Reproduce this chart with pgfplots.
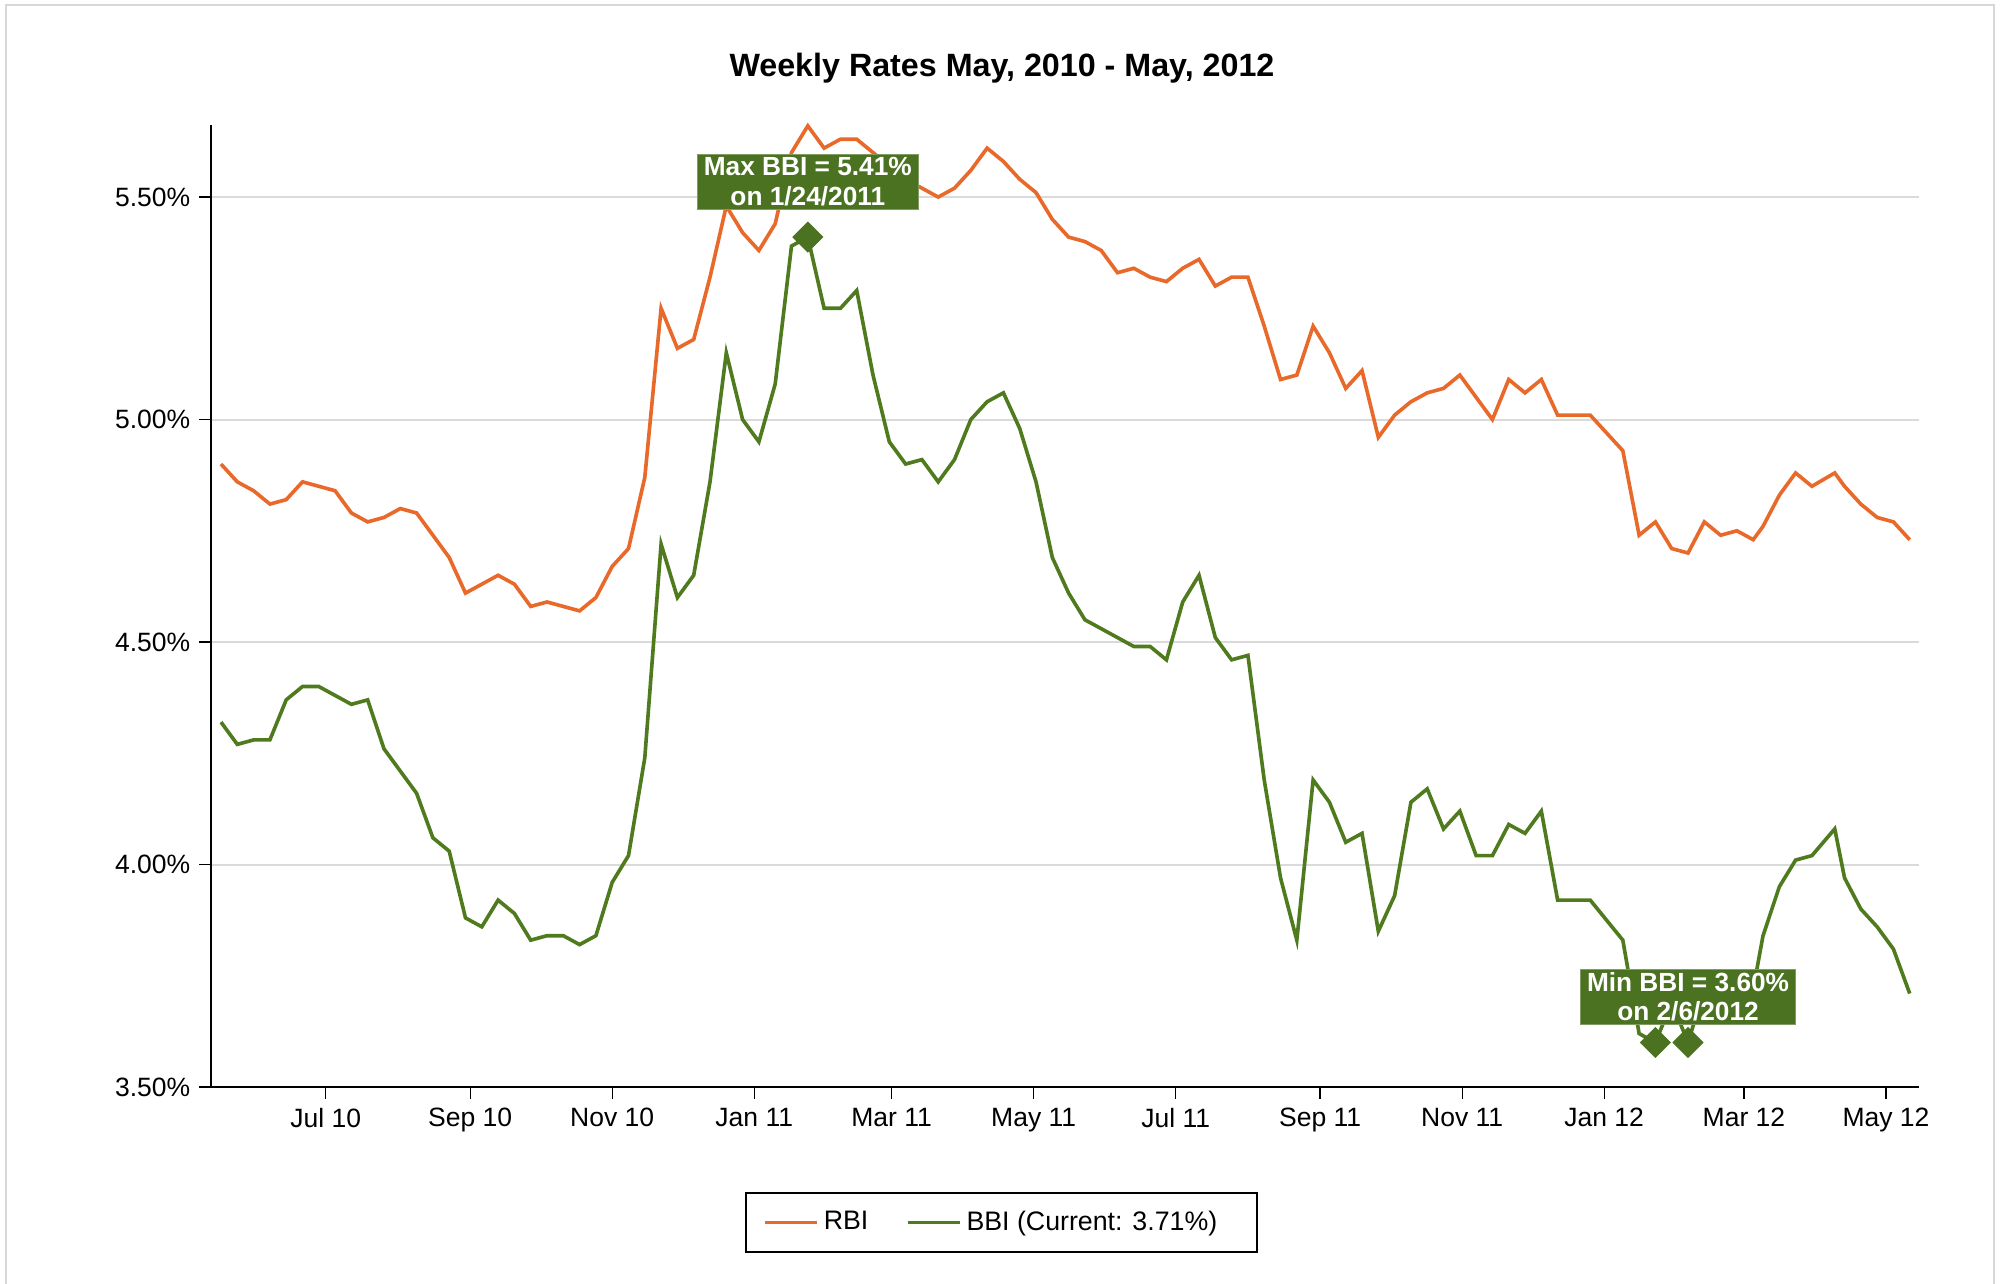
\documentclass[border=0pt]{standalone}
\usepackage{pgfplots}
\pgfplotsset{compat=1.18}
\usepackage{fontspec}
\setmainfont{Liberation Sans}
\definecolor{rbi}{HTML}{E8692A}
\definecolor{bbi}{HTML}{4F7A1E}
\definecolor{boxg}{HTML}{4A7220}
\definecolor{gridc}{HTML}{DADADA}
\definecolor{framec}{HTML}{D8D8D8}
\begin{document}
\begin{tikzpicture}
\useasboundingbox (0,0) rectangle (802.8pt,513.6pt);
\draw[framec, line width=0.6pt] (2.4pt,0) -- (2.4pt,511.6pt) -- (797.6pt,511.6pt) -- (797.6pt,0);
\node[font=\bfseries\fontsize{12.9}{15}\selectfont] at (400.8pt,486.4pt) {Weekly Rates May, 2010 - May, 2012};
\begin{axis}[
  at={(84.4pt,78.8pt)}, anchor=south west,
  scale only axis, width=683.2pt, height=384.8pt,
  xmin=-0.613, xmax=104.17, ymin=3.5, ymax=5.662,
  axis x line*=bottom, axis y line*=left,
  axis line style={black, line width=0.8pt, -},
  xtick={6.4286,15.2857,24,32.714,41.143,49.857,58.571,67.429,76.143,84.857,93.429,102.143},
  xticklabels={Jul 10,Sep 10,Nov 10,Jan 11,Mar 11,May 11,Jul 11,Sep 11,Nov 11,Jan 12,Mar 12,May 12},
  ytick={3.5,4,4.5,5,5.5},
  yticklabels={3.50\%,4.00\%,4.50\%,5.00\%,5.50\%},
  tick align=outside, major tick length=4.8pt,
  tick style={black, line width=0.5pt},
  ymajorgrids, major grid style={gridc, line width=0.8pt},
  ticklabel style={font=\fontsize{10.6}{12}\selectfont},
  clip=false,
  legend columns=2,
  legend style={at={(0.4628,-0.1409)}, anchor=center, draw=black, line width=0.8pt,
    font=\fontsize{10.7}{12}\selectfont, inner xsep=7pt, inner ysep=5pt,
    /tikz/every even column/.append style={column sep=13pt}},
  legend image code/.code={\draw[#1] (0pt,0pt) -- (20.8pt,0pt);},
]
\addplot[rbi, line width=1.45pt] coordinates {
(0,4.90) (1,4.86) (2,4.84) (3,4.81) (4,4.82) (5,4.86) (6,4.85) (7,4.84) (8,4.79) (9,4.77)
(10,4.78) (11,4.80) (12,4.79) (13,4.74) (14,4.69) (15,4.61) (16,4.63) (17,4.65) (18,4.63) (19,4.58)
(20,4.59) (21,4.58) (22,4.57) (23,4.60) (24,4.67) (25,4.71) (26,4.87) (27,5.25) (28,5.16) (29,5.18)
(30,5.32) (31,5.48) (32,5.42) (33,5.38) (34,5.44) (35,5.60) (36,5.66) (37,5.61) (38,5.63) (39,5.63)
(40,5.60) (41,5.57) (42,5.54) (43,5.52) (44,5.50) (45,5.52) (46,5.56) (47,5.61) (48,5.58) (49,5.54)
(50,5.51) (51,5.45) (52,5.41) (53,5.40) (54,5.38) (55,5.33) (56,5.34) (57,5.32) (58,5.31) (59,5.34)
(60,5.36) (61,5.30) (62,5.32) (63,5.32) (64,5.21) (65,5.09) (66,5.10) (67,5.21) (68,5.15) (69,5.07)
(70,5.11) (71,4.96) (72,5.01) (73,5.04) (74,5.06) (75,5.07) (76,5.10) (77,5.05) (78,5.00) (79,5.09)
(80,5.06) (81,5.09) (82,5.01) (83,5.01) (84,5.01) (85,4.97) (86,4.93) (87,4.74) (88,4.77) (89,4.71)
(90,4.70) (91,4.77) (92,4.74) (93,4.75) (94,4.73) (94.6,4.76) (95.6,4.83) (96.6,4.88) (97.6,4.85)
(99.0,4.88) (99.6,4.85) (100.6,4.81) (101.6,4.78) (102.6,4.77) (103.6,4.73)
};
\addlegendentry{RBI}
\addplot[bbi, line width=1.45pt] coordinates {
(0,4.32) (1,4.27) (2,4.28) (3,4.28) (4,4.37) (5,4.40) (6,4.40) (7,4.38) (8,4.36) (9,4.37)
(10,4.26) (11,4.21) (12,4.16) (13,4.06) (14,4.03) (15,3.88) (16,3.86) (17,3.92) (18,3.89) (19,3.83)
(20,3.84) (21,3.84) (22,3.82) (23,3.84) (24,3.96) (25,4.02) (26,4.24) (27,4.72) (28,4.60) (29,4.65)
(30,4.86) (31,5.15) (32,5.00) (33,4.95) (34,5.08) (35,5.39) (36,5.41) (37,5.25) (38,5.25) (39,5.29)
(40,5.10) (41,4.95) (42,4.90) (43,4.91) (44,4.86) (45,4.91) (46,5.00) (47,5.04) (48,5.06) (49,4.98)
(50,4.86) (51,4.69) (52,4.61) (53,4.55) (54,4.53) (55,4.51) (56,4.49) (57,4.49) (58,4.46) (59,4.59)
(60,4.65) (61,4.51) (62,4.46) (63,4.47) (64,4.19) (65,3.97) (66,3.83) (67,4.19) (68,4.14) (69,4.05)
(70,4.07) (71,3.85) (72,3.93) (73,4.14) (74,4.17) (75,4.08) (76,4.12) (77,4.02) (78,4.02) (79,4.09)
(80,4.07) (81,4.12) (82,3.92) (83,3.92) (84,3.92) (85,3.875) (86,3.83) (87,3.62) (88,3.60) (89,3.69)
(90,3.60) (91,3.72) (92,3.73) (93,3.71) (94,3.72) (94.6,3.84) (95.6,3.95) (96.6,4.01) (97.6,4.02)
(99.0,4.08) (99.6,3.97) (100.6,3.90) (101.6,3.86) (102.6,3.81) (103.6,3.71)
};
\addlegendentry{BBI (Current: 3.71\%)\rule{7pt}{0pt}}
\addplot[only marks, mark=square*, mark size=4.2pt, mark options={rotate=45, fill=boxg, draw=boxg}, forget plot]
  coordinates {(36,5.41) (88,3.60) (90,3.60)};
\node[fill=boxg, draw=boxg!70!white, line width=0.4pt, text=white,
  font=\bfseries\fontsize{10.5}{11.9}\selectfont, align=center, inner xsep=2.6pt, inner ysep=1.2pt]
  at (axis cs:36,5.534) {Max BBI = 5.41\%\\on 1/24/2011};
\node[fill=boxg, draw=boxg!70!white, line width=0.4pt, text=white,
  font=\bfseries\fontsize{10.5}{11.9}\selectfont, align=center, inner xsep=2.6pt, inner ysep=1.2pt]
  at (axis cs:90,3.703) {Min BBI = 3.60\%\\on 2/6/2012};
\end{axis}
\end{tikzpicture}
\end{document}
